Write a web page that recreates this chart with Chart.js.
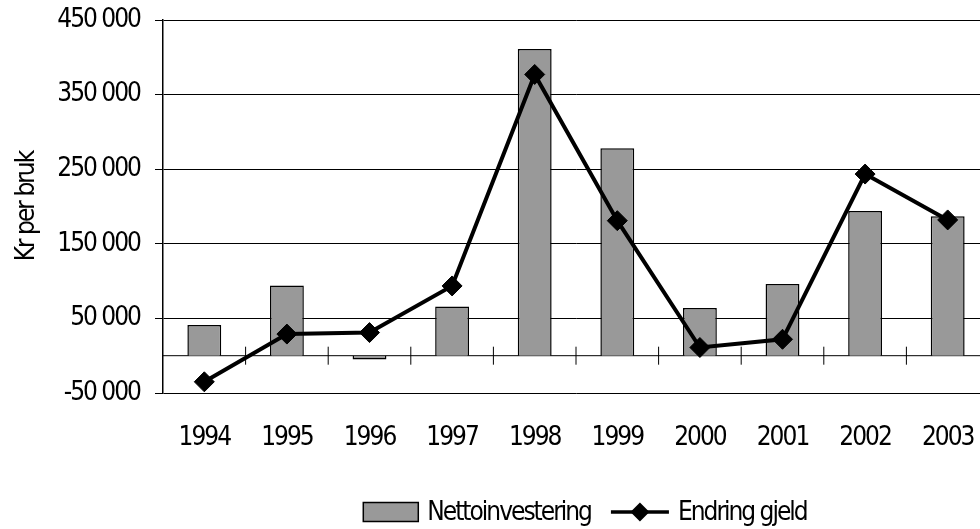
<!DOCTYPE html>
<html>
<head>
<meta charset="utf-8">
<script src="https://cdn.jsdelivr.net/npm/chart.js@4.4.1/dist/chart.umd.min.js"></script>
<style>
  html, body { margin: 0; padding: 0; background: #fff; overflow: hidden; width: 980px; height: 529px; }
  #wrap { position: absolute; left: 0; top: 0; width: 1000px; height: 529px; }
</style>
</head>
<body>
<div id="wrap"><canvas id="c" width="1000" height="529"></canvas></div>
<script>
const years = ['1994','1995','1996','1997','1998','1999','2000','2001','2002','2003'];
const nettoinvestering = [41000, 94000, -5000, 66000, 411000, 278000, 64000, 96000, 194000, 187000];
const endringGjeld = [-35000, 29000, 31000, 93500, 377000, 181000, 11000, 22000, 243500, 182000];
const yTicks = [-50000, 50000, 150000, 250000, 350000, 450000];
const seriesNames = ['Nettoinvestering', 'Endring gjeld'];
const yTitle = 'Kr per bruk';

const FONT = '"Liberation Sans Narrow", "DejaVu Sans Condensed", "Arial Narrow", sans-serif';
Chart.defaults.font.family = FONT;
Chart.defaults.color = '#000';

function fmt(v) {
  const s = String(Math.abs(v)).replace(/\B(?=(\d{3})+(?!\d))/g, ' ');
  return (v < 0 ? '-' : '') + s;
}

const narrowTextPlugin = {
  id: 'narrowText',
  beforeUpdate(chart) { chart.ctx.letterSpacing = '-2px'; },
  beforeLayout(chart) { chart.ctx.letterSpacing = '-2px'; },
  beforeDraw(chart) { chart.ctx.letterSpacing = '-2px'; }
};

const zeroLinePlugin = {
  id: 'zeroLine',
  beforeDatasetsDraw(chart) {
    const { ctx, chartArea, scales } = chart;
    const y0 = scales.y.getPixelForValue(0);
    ctx.save();
    ctx.strokeStyle = '#000';
    ctx.lineWidth = 1;
    ctx.beginPath();
    ctx.moveTo(chartArea.left, y0);
    ctx.lineTo(chartArea.right, y0);
    for (let i = 1; i <= years.length; i++) {
      const x = i < years.length
        ? (scales.x.getPixelForValue(i - 1) + scales.x.getPixelForValue(i)) / 2
        : chartArea.right;
      ctx.moveTo(x, y0 - 9);
      ctx.lineTo(x, y0 + 9);
    }
    ctx.stroke();
    ctx.restore();
  }
};

const legendPlugin = {
  id: 'customLegend',
  afterDraw(chart) {
    const { ctx } = chart;
    const ds = chart.data.datasets;
    const barDs = ds.find(d => d.type === 'bar');
    const lineDs = ds.find(d => d.type === 'line');
    ctx.save();
    ctx.letterSpacing = '-2px';
    ctx.font = '26px ' + FONT;
    ctx.textBaseline = 'middle';
    ctx.fillStyle = '#000';
    const cy = 512;
    const boxW = 55, boxH = 19, lineW = 58, gapText = 9, gapItem = 20;
    const w0 = ctx.measureText(barDs.label).width;
    const w1 = ctx.measureText(lineDs.label).width;
    const total = boxW + gapText + w0 + gapItem + lineW + gapText + w1;
    let x = 585 - total / 2;
    ctx.fillStyle = barDs.backgroundColor;
    ctx.fillRect(x, cy - boxH / 2, boxW, boxH);
    ctx.strokeStyle = '#000';
    ctx.lineWidth = 1.5;
    ctx.strokeRect(x, cy - boxH / 2, boxW, boxH);
    x += boxW + gapText;
    ctx.fillStyle = '#000';
    ctx.fillText(barDs.label, x, cy + 1);
    x += w0 + gapItem;
    ctx.beginPath();
    ctx.lineWidth = 3.5;
    ctx.moveTo(x, cy);
    ctx.lineTo(x + lineW, cy);
    ctx.stroke();
    const mx = x + lineW / 2, r = 9.5;
    ctx.beginPath();
    ctx.moveTo(mx - r, cy);
    ctx.lineTo(mx, cy - r);
    ctx.lineTo(mx + r, cy);
    ctx.lineTo(mx, cy + r);
    ctx.closePath();
    ctx.fill();
    x += lineW + gapText;
    ctx.fillText(lineDs.label, x, cy + 1);
    ctx.restore();
  }
};

new Chart(document.getElementById('c'), {
  data: {
    labels: years,
    datasets: [
      {
        type: 'line',
        label: seriesNames[1],
        data: endringGjeld,
        borderColor: '#000',
        backgroundColor: '#000',
        borderWidth: 4,
        pointStyle: 'rectRot',
        pointRadius: 10,
        pointBorderWidth: 1,
        pointBackgroundColor: '#000',
        pointBorderColor: '#000',
        tension: 0,
        order: 0
      },
      {
        type: 'bar',
        label: seriesNames[0],
        data: nettoinvestering,
        backgroundColor: '#999999',
        borderColor: '#000',
        borderWidth: 1.5,
        categoryPercentage: 1,
        barPercentage: 0.41,
        order: 1
      }
    ]
  },
  options: {
    responsive: false,
    animation: false,
    layout: { padding: { left: 0, right: 10, top: 20, bottom: 0 } },
    plugins: {
      legend: { display: false },
      tooltip: { enabled: false }
    },
    scales: {
      x: {
        type: 'category',
        offset: true,
        grid: { display: false, drawTicks: false },
        border: { display: false },
        ticks: { font: { size: 26 }, padding: 30, autoSkip: false, maxRotation: 0 },
        afterFit(scale) { scale.height = 136; scale.paddingLeft = 0; scale.paddingRight = 0; }
      },
      y: {
        min: -50000,
        max: 450000,
        afterBuildTicks(scale) { scale.ticks = yTicks.map(v => ({ value: v })); },
        grid: { color: '#000', lineWidth: 1, tickLength: 8, drawTicks: true },
        border: { display: true, color: '#000', width: 1.5 },
        ticks: { font: { size: 26 }, padding: 15, callback: (v) => fmt(v) },
        title: { display: true, text: yTitle, font: { size: 26 }, padding: { top: 12, bottom: 0 } },
        afterFit(scale) { scale.width = 163; scale.paddingTop = 0; scale.paddingBottom = 0; }
      }
    }
  },
  plugins: [narrowTextPlugin, zeroLinePlugin, legendPlugin]
});
</script>
</body>
</html>
